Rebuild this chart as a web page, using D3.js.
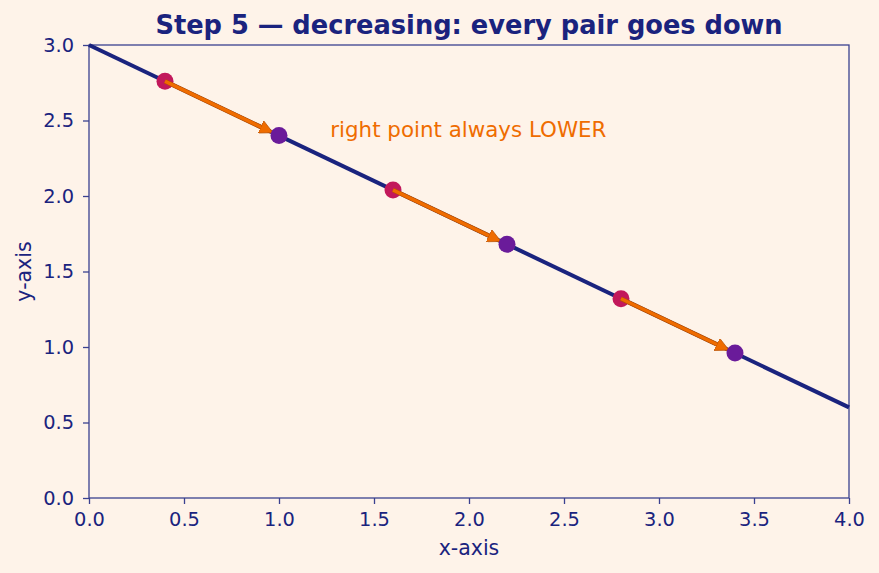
<!DOCTYPE html>
<meta charset="utf-8">
<style>
body { margin: 0; background: #fef3e9; }
text { font-family: "DejaVu Sans", sans-serif; fill: #1a237e; }
</style>
<body>
<svg id="chart" width="879" height="573"></svg>
<script src="https://d3js.org/d3.v7.min.js"></script>
<script>
// line y = 3 - 0.6x, pairs of points sitting on it
var lineX = [0, 4];
var lineY = [3.0, 0.6];
var leftX = [0.4, 1.6, 2.8];
var leftY = [2.76, 2.04, 1.32];
var rightX = [1.0, 2.2, 3.4];
var rightY = [2.4, 1.68, 0.96];
var xTicks = [0, 0.5, 1, 1.5, 2, 2.5, 3, 3.5, 4];
var yTicks = [0, 0.5, 1, 1.5, 2, 2.5, 3];

var svg = d3.select("#chart");
var margin = {left: 89, right: 30, top: 45, bottom: 75},
    width = 879 - margin.left - margin.right,
    height = 573 - margin.top - margin.bottom;

var g = svg.append("g").attr("transform", "translate(" + margin.left + "," + margin.top + ")");

var x = d3.scaleLinear().domain([0, 4]).range([0, width]);
var y = d3.scaleLinear().domain([0, 3]).range([height, 0]);

var axisColor = "#3a4190";

var xAxis = g.append("g").attr("transform", "translate(0," + height + ")")
  .call(d3.axisBottom(x).tickValues(xTicks).tickFormat(d3.format(".1f")).tickSizeOuter(0).tickSize(6).tickPadding(8));
var yAxis = g.append("g")
  .call(d3.axisLeft(y).tickValues(yTicks).tickFormat(d3.format(".1f")).tickSizeOuter(0).tickSize(6).tickPadding(9));
[xAxis, yAxis].forEach(function(a){
  a.select(".domain").remove();
  a.selectAll("line").attr("stroke", axisColor).attr("stroke-width", 1.3);
  a.selectAll("text").style("font-size", "19.4px").attr("fill", "#1a237e").style("font-family", "DejaVu Sans, sans-serif");
});

g.append("rect").attr("width", width).attr("height", height)
  .attr("fill", "none").attr("stroke", axisColor).attr("stroke-width", 1.3);

// main line
g.append("line")
  .attr("x1", x(lineX[0])).attr("y1", y(lineY[0]))
  .attr("x2", x(lineX[1])).attr("y2", y(lineY[1]))
  .attr("stroke", "#1a237e").attr("stroke-width", 4);

svg.append("defs").append("marker")
  .attr("id", "head").attr("viewBox", "0 0 10 10")
  .attr("refX", 9).attr("refY", 5)
  .attr("markerWidth", 4.2).attr("markerHeight", 4.2)
  .attr("markerUnits", "strokeWidth")
  .attr("orient", "auto")
  .append("path").attr("d", "M0,0 L10,5 L0,10 z").attr("fill", "#ef6c00").attr("stroke", "#b85000").attr("stroke-width", 0.5);

// left points
g.selectAll(".lp").data(leftX).enter().append("circle")
  .attr("cx", function(d){ return x(d); })
  .attr("cy", function(d, i){ return y(leftY[i]); })
  .attr("r", 8.5).attr("fill", "#c2185b");

// arrows: dark edge under, orange on top
function arrowEnds(sel){
  sel.each(function(d, i){
    var x1 = x(d), y1 = y(leftY[i]), x2 = x(rightX[i]), y2 = y(rightY[i]);
    var dx = x2 - x1, dy = y2 - y1, len = Math.sqrt(dx*dx + dy*dy);
    var s = 8;
    d3.select(this)
      .attr("x1", x1).attr("y1", y1)
      .attr("x2", x2 - dx / len * s).attr("y2", y2 - dy / len * s);
  });
}
g.selectAll(".arrEdge").data(leftX).enter().append("line")
  .call(arrowEnds)
  .attr("stroke", "#b85000").attr("stroke-width", 4.5)
  .attr("stroke-dasharray", function(){ return (this.getTotalLength() - 10) + " 1000"; });
g.selectAll(".arr").data(leftX).enter().append("line")
  .call(arrowEnds)
  .attr("stroke", "#ef6c00").attr("stroke-width", 3.2)
  .attr("marker-end", "url(#head)");

// right points
g.selectAll(".rp").data(rightX).enter().append("circle")
  .attr("cx", function(d){ return x(d); })
  .attr("cy", function(d, i){ return y(rightY[i]); })
  .attr("r", 8.5).attr("fill", "#6a1b9a");

g.append("text")
  .attr("x", x(1.27)).attr("y", y(2.4) + 1)
  .style("font-size", "21.4px").style("fill", "#ef6c00")
  .text("right point always LOWER");

svg.append("text")
  .attr("x", margin.left + width / 2).attr("y", 34)
  .attr("text-anchor", "middle")
  .style("font-size", "25.7px").style("font-weight", "bold")
  .text("Step 5 \u2014 decreasing: every pair goes down");

svg.append("text")
  .attr("x", margin.left + width / 2).attr("y", 555)
  .attr("text-anchor", "middle")
  .style("font-size", "20.5px")
  .text("x-axis");

svg.append("text")
  .attr("transform", "translate(31," + (margin.top + height / 2) + ") rotate(-90)")
  .attr("text-anchor", "middle")
  .style("font-size", "20.5px")
  .text("y-axis");
</script>
</body>
